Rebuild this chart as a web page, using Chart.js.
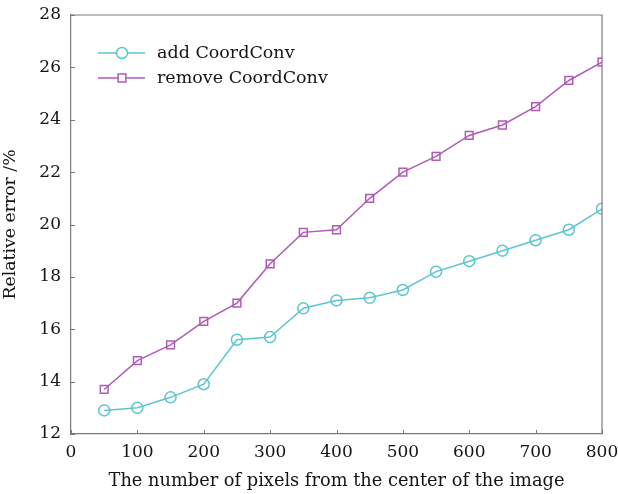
<!DOCTYPE html>
<html>
<head>
<meta charset="utf-8">
<script src="https://cdn.jsdelivr.net/npm/chart.js@4.4.0/dist/chart.umd.min.js"></script>
<style>
  html, body { margin: 0; padding: 0; background: #fff; }
  #wrap { width: 618px; height: 494px; position: relative; }
</style>
</head>
<body>
<div id="wrap"><canvas id="c" width="618" height="494"></canvas></div>
<script>
// Distance from image centre (pixels)
const pixelDistances = [50, 100, 150, 200, 250, 300, 350, 400, 450, 500, 550, 600, 650, 700, 750, 800];
// Relative error (%) for each variant
const addCoordConv    = [12.9, 13.0, 13.4, 13.9, 15.6, 15.7, 16.8, 17.1, 17.2, 17.5, 18.2, 18.6, 19.0, 19.4, 19.8, 20.6];
const removeCoordConv = [13.7, 14.8, 15.4, 16.3, 17.0, 18.5, 19.7, 19.8, 21.0, 22.0, 22.6, 23.4, 23.8, 24.5, 25.5, 26.2];
const seriesNames = ['add CoordConv', 'remove CoordConv'];
const xTicks = [0, 100, 200, 300, 400, 500, 600, 700, 800];
const yTicks = [12, 14, 16, 18, 20, 22, 24, 26, 28];

const FONT = '"DejaVu Serif", "Liberation Serif", serif';
const TEXT = '#141414';
const AXIS = '#7a7a7a';
const CYAN = '#5cc6cf';
const MAGENTA = '#b05ab8';

const toPoints = vals => vals.map((v, i) => ({ x: pixelDistances[i], y: v }));

// Box frame, inward tick marks and the line+marker legend
const framePlugin = {
  id: 'frame',
  afterDraw(chart) {
    const { ctx, chartArea: a, scales } = chart;
    ctx.save();
    ctx.strokeStyle = AXIS;
    ctx.lineWidth = 1.2;
    ctx.beginPath();
    ctx.moveTo(a.left, a.top); ctx.lineTo(a.right, a.top); ctx.lineTo(a.right, a.bottom);
    ctx.stroke();
    ctx.lineWidth = 1;
    ctx.beginPath();
    xTicks.forEach(t => {
      const px = Math.round(scales.x.getPixelForValue(t)) + 0.5;
      ctx.moveTo(px, a.bottom); ctx.lineTo(px, a.bottom - 4);
    });
    yTicks.forEach(t => {
      const py = Math.round(scales.y.getPixelForValue(t)) + 0.5;
      ctx.moveTo(a.left, py); ctx.lineTo(a.left + 4, py);
    });
    ctx.stroke();

    // legend
    chart.data.datasets.forEach((ds, i) => {
      const y = 53 + i * 25;
      ctx.strokeStyle = ds.borderColor;
      ctx.lineWidth = 1.5;
      ctx.beginPath();
      ctx.moveTo(98, y); ctx.lineTo(145, y);
      ctx.stroke();
      ctx.fillStyle = '#ffffff';
      Chart.helpers.drawPoint(ctx, {
        pointStyle: ds.pointStyle, radius: ds.pointRadius, borderWidth: 1.5
      }, 122, y);
      ctx.fillStyle = TEXT;
      ctx.font = '17.5px ' + FONT;
      ctx.textAlign = 'left';
      ctx.textBaseline = 'middle';
      ctx.fillText(ds.label, 157, y);
    });
    ctx.restore();
  }
};

new Chart(document.getElementById('c'), {
  type: 'line',
  data: {
    datasets: [
      {
        label: seriesNames[0],
        data: toPoints(addCoordConv),
        borderColor: CYAN,
        backgroundColor: 'rgba(0,0,0,0)',
        borderWidth: 1.5,
        pointStyle: 'circle',
        pointRadius: 5.5,
        pointBorderWidth: 1.5,
        pointBackgroundColor: 'rgba(255,255,255,0)',
        pointBorderColor: CYAN
      },
      {
        label: seriesNames[1],
        data: toPoints(removeCoordConv),
        borderColor: MAGENTA,
        backgroundColor: 'rgba(0,0,0,0)',
        borderWidth: 1.5,
        pointStyle: 'rect',
        pointRadius: 5.5,
        pointBorderWidth: 1.5,
        pointBackgroundColor: 'rgba(255,255,255,0)',
        pointBorderColor: MAGENTA
      }
    ]
  },
  options: {
    responsive: false,
    animation: false,
    layout: { padding: { top: 15, right: 16, left: 0, bottom: 0 } },
    plugins: { legend: { display: false }, tooltip: { enabled: false } },
    scales: {
      x: {
        type: 'linear',
        min: 0, max: 800,
        afterBuildTicks(scale) { scale.ticks = xTicks.map(v => ({ value: v })); },
        afterFit(scale) { scale.height = 60; scale.paddingRight = 0; scale.paddingLeft = 0; },
        ticks: { color: TEXT, font: { family: FONT, size: 17 }, padding: 8, maxRotation: 0 },
        grid: { drawOnChartArea: false, drawTicks: false },
        border: { display: true, color: AXIS, width: 1.2 },
        title: {
          display: true,
          text: 'The number of pixels from the center of the image',
          color: TEXT,
          font: { family: FONT, size: 17.8 },
          padding: { top: 0, bottom: 2 }
        }
      },
      y: {
        min: 12, max: 28,
        afterBuildTicks(scale) { scale.ticks = yTicks.map(v => ({ value: v })); },
        afterFit(scale) { scale.width = 71; scale.paddingTop = 0; scale.paddingBottom = 0; },
        ticks: { color: TEXT, font: { family: FONT, size: 17 }, padding: 10 },
        grid: { drawOnChartArea: false, drawTicks: false },
        border: { display: true, color: AXIS, width: 1.2 },
        title: {
          display: true,
          text: 'Relative error /%',
          color: TEXT,
          font: { family: FONT, size: 17.3 },
          padding: { top: 0, bottom: 8 }
        }
      }
    }
  },
  plugins: [framePlugin]
});
</script>
</body>
</html>
